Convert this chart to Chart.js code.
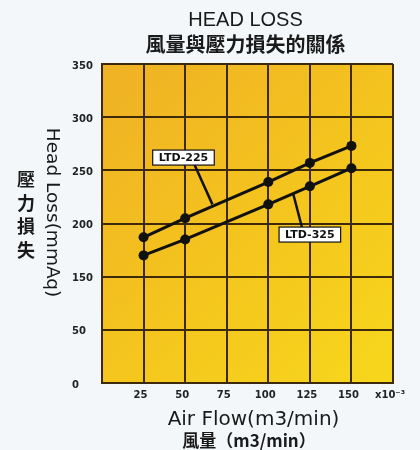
<!DOCTYPE html>
<html><head><meta charset="utf-8">
<script src="https://cdn.jsdelivr.net/npm/chart.js@4"></script>
<style>html,body{margin:0;padding:0;background:#f3f7fa;overflow:hidden;}</style>
</head><body>
<canvas id="c" width="420" height="450"></canvas>
<script>
// ---- data ----
const airFlow = [25, 50, 100, 125, 150];
const ltd225 = [187, 205, 239, 257, 273];
const ltd325 = [170, 185, 218, 235, 252];
const seriesNames = ['LTD-225', 'LTD-325'];
const xTickValues = [25, 50, 75, 100, 125, 150, 175];
const xTickLabels = ['25', '50', '75', '100', '125', '150', 'x10⁻³'];
const yTickValues = [50, 100, 150, 200, 250, 300, 350];
const yTickLabels = ['0', '50', '150', '200', '250', '300', '350'];

// callout positions in data units
const callouts = [
  {text: seriesNames[0], boxX: 49, boxY: 262, fromX: 55.7, tipX: 66.4, tipY: 218, anchor: 'bottom'},
  {text: seriesNames[1], boxX: 125, boxY: 189.6, fromX: 120.2, tipX: 114.9, tipY: 228.5, anchor: 'top'}
];

const GRID = '#3d2a0c';

const bgPlugin = {
  id: 'bg',
  beforeDraw(chart) {
    const {ctx, chartArea: a} = chart;
    ctx.save();
    ctx.fillStyle = '#f3f7fa';
    ctx.fillRect(0, 0, chart.width, chart.height);
    const g = ctx.createLinearGradient(a.left, a.top, a.right, a.bottom);
    g.addColorStop(0, '#efb125');
    g.addColorStop(0.5, '#f4c41e');
    g.addColorStop(1, '#f7d71c');
    ctx.fillStyle = g;
    ctx.fillRect(a.left, a.top, a.right - a.left, a.bottom - a.top);
    ctx.restore();
  }
};

const textPlugin = {
  id: 'texts',
  afterDatasetsDraw(chart) {
    const {ctx, scales: {x, y}} = chart;
    ctx.save();
    callouts.forEach(c => {
      ctx.font = 'bold 11px "DejaVu Sans"';
      const tw = ctx.measureText(c.text).width;
      const w = tw + 12, h = 15;
      const bx = x.getPixelForValue(c.boxX), by = y.getPixelForValue(c.boxY);
      const fx = x.getPixelForValue(c.fromX);
      const fy = c.anchor === 'bottom' ? by + h / 2 : by - h / 2;
      ctx.strokeStyle = '#111';
      ctx.lineWidth = 2.5;
      ctx.beginPath();
      ctx.moveTo(fx, fy);
      ctx.lineTo(x.getPixelForValue(c.tipX), y.getPixelForValue(c.tipY));
      ctx.stroke();
      ctx.fillStyle = '#ffffff';
      ctx.fillRect(bx - w / 2, by - h / 2, w, h);
      ctx.lineWidth = 1.2;
      ctx.strokeRect(bx - w / 2, by - h / 2, w, h);
      ctx.fillStyle = '#111';
      ctx.textAlign = 'center';
      ctx.textBaseline = 'middle';
      ctx.fillText(c.text, bx, by + 0.5);
    });
    ctx.restore();
  },
  afterDraw(chart) {
    const {ctx, chartArea: a} = chart;
    const cx = (a.left + a.right) / 2;
    const cy = (a.top + a.bottom) / 2;
    ctx.save();
    ctx.fillStyle = '#1a1a1a';
    ctx.textAlign = 'center';
    ctx.textBaseline = 'middle';
    ctx.font = '20px "Liberation Sans"';
    ctx.fillText('HEAD LOSS', cx - 2, a.top - 44);
    ctx.font = 'bold 20px "Noto Sans CJK TC"';
    ctx.fillText('風量與壓力損失的關係', cx - 2, a.top - 20);
    // x titles
    ctx.font = '20px "DejaVu Sans"';
    ctx.textBaseline = 'alphabetic';
    ctx.fillText('Air Flow(m3/min)', cx + 6, a.bottom + 42);
    ctx.textBaseline = 'middle';
    ctx.font = 'bold 17px "Noto Sans CJK TC"';
    ctx.fillText('風量（m3/min）', cx + 1.5, a.bottom + 58);
    // y titles
    ctx.save();
    ctx.translate(a.left - 50, cy - 11);
    ctx.rotate(Math.PI / 2);
    ctx.font = '18.5px "DejaVu Sans"';
    ctx.fillText('Head Loss(mmAq)', 0, 0);
    ctx.restore();
    ctx.font = 'bold 18px "Noto Sans CJK TC"';
    const chars = ['壓', '力', '損', '失'];
    chars.forEach((ch, i) => {
      ctx.fillText(ch, a.left - 76, cy - 44 + i * 23.5);
    });
    ctx.restore();
  }
};

const tickFont = {family: '"DejaVu Sans"', size: 10, weight: 'bold'};

new Chart(document.getElementById('c'), {
  type: 'line',
  data: {
    datasets: [
      {label: seriesNames[0], data: airFlow.map((v, i) => ({x: v, y: ltd225[i]}))},
      {label: seriesNames[1], data: airFlow.map((v, i) => ({x: v, y: ltd325[i]}))}
    ].map(d => Object.assign(d, {
      borderColor: '#111', backgroundColor: '#111', borderWidth: 3,
      pointRadius: 5, pointBackgroundColor: '#111', pointBorderWidth: 0,
      tension: 0, fill: false
    }))
  },
  options: {
    responsive: false,
    animation: false,
    devicePixelRatio: 1,
    layout: {padding: {top: 64, left: 72, right: 27, bottom: 0}},
    plugins: {legend: {display: false}, tooltip: {enabled: false}, title: {display: false}},
    scales: {
      x: {
        type: 'linear', min: 0, max: 175,
        afterFit: s => { s.height = 67; },
        ticks: {
          stepSize: 25, font: tickFont, color: '#222', padding: 6, labelOffset: -3,
          maxRotation: 0, autoSkip: false,
          callback: v => { const i = xTickValues.indexOf(v); return i < 0 ? '' : xTickLabels[i]; }
        },
        grid: {color: GRID, lineWidth: 2, drawTicks: false},
        border: {color: GRID, width: 2}
      },
      y: {
        type: 'linear', min: 50, max: 350,
        afterFit: s => { s.width = 30; },
        ticks: {
          stepSize: 50, font: tickFont, color: '#222', crossAlign: 'far', labelOffset: 2,
          autoSkip: false,
          callback: v => { const i = yTickValues.indexOf(v); return i < 0 ? '' : yTickLabels[i]; }
        },
        grid: {color: GRID, lineWidth: 2, drawTicks: false},
        border: {color: GRID, width: 2}
      }
    }
  },
  plugins: [bgPlugin, textPlugin]
});
</script>
</body></html>
